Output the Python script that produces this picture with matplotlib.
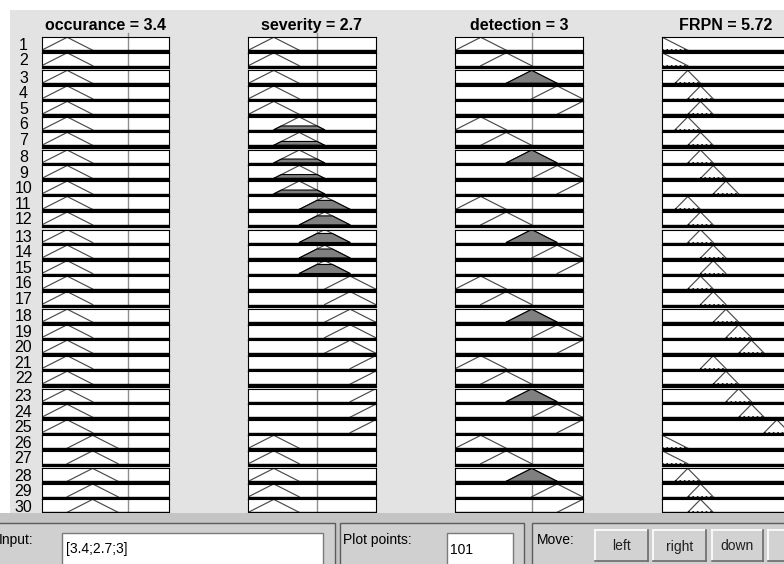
#!/usr/bin/env python3
"""
Fuzzy rule viewer snapshot: 30 rules, three inputs (occurance, severity,
detection) and the FRPN output, plus the control strip at the bottom.
"""

import matplotlib
matplotlib.use("Agg")
import matplotlib.pyplot as plt
from matplotlib.patches import Rectangle
import numpy as np

plt.rcParams['font.family'] = ['Liberation Sans', 'DejaVu Sans']

W, H = 784, 564

INPUT_NAMES = ['occurance', 'severity', 'detection']
INPUT_VALUES = [3.4, 2.7, 3]
INPUT_RANGE = (0, 5)
OUTPUT_NAME = 'FRPN'
OUTPUT_VALUE = 5.72
OUTPUT_RANGE = (0, 10)
PLOT_POINTS = 101

# triangular membership functions (a, b, c), keyed by MF index
IN_MF = {1: (0, 1, 2), 2: (1, 2, 3), 3: (2, 3, 4), 4: (3, 4, 5), 5: (4, 5, 6)}
OUT_MF = {0: (-2, 0, 2), 2: (1, 2, 3), 3: (2, 3, 4), 4: (3, 4, 5),
          5: (4, 5, 6), 6: (5, 6, 7), 7: (6, 7, 8), 9: (8, 9, 10)}

# MF used by each of the 30 rules
RULE_OCC = [1, 1, 1, 1, 1, 1, 1, 1, 1, 1, 1, 1, 1, 1, 1,
            1, 1, 1, 1, 1, 1, 1, 1, 1, 1, 2, 2, 2, 2, 2]
RULE_SEV = [1, 1, 1, 1, 1, 2, 2, 2, 2, 2, 3, 3, 3, 3, 3,
            4, 4, 4, 4, 4, 5, 5, 5, 5, 5, 1, 1, 1, 1, 1]
RULE_DET = [1, 2, 3, 4, 5, 1, 2, 3, 4, 5, 1, 2, 3, 4, 5,
            1, 2, 3, 4, 5, 1, 2, 3, 4, 5, 1, 2, 3, 4, 5]
RULE_FRPN = [0, 0, 2, 3, 3, 2, 3, 3, 4, 5, 2, 3, 3, 4, 4,
             3, 4, 5, 6, 7, 4, 5, 6, 7, 9, 0, 0, 2, 3, 3]

BG = '#e3e3e3'
MF_EDGE = '#4a4a4a'
FILL = '#808080'

COL_LEFT = [41.7, 248.3, 455.3, 662.3]
COL_W = 127.3
ROW_TOP0 = 37.3
ROW_H = 15.5
GROUP_GAP = 2.1
GAP_BEFORE = {2, 7, 12, 17, 22, 27}
N_ROWS = len(RULE_OCC)
TITLE_BASELINE = 30


def row_tops():
    tops, y = [], ROW_TOP0
    for r in range(N_ROWS):
        if r in GAP_BEFORE:
            y += GROUP_GAP
        tops.append(y)
        y += ROW_H
    return tops


def px_axes(fig, x, y, w, h, **kw):
    """Add axes using pixel coords measured from the top-left corner."""
    return fig.add_axes([x / W, 1 - (y + h) / H, w / W, h / H], **kw)


def trimf(x, abc):
    a, b, c = abc
    return np.interp(x, [a, b, c], [0, 1, 0], left=0, right=0)


def draw_rule_cell(ax, abc, xrange, value=None, first=False, base_dotted=False):
    ax.set_xlim(*xrange)
    ax.set_ylim(-0.2, 1.0)
    ax.set_xticks([])
    ax.set_yticks([])
    ax.set_facecolor('white')
    for s in ax.spines.values():
        s.set_linewidth(0.8)
        s.set_color('black')

    a, b, c = abc
    ax.plot([a, b, c], [0, 1, 0], color=MF_EDGE, lw=0.85, zorder=2)
    if base_dotted:
        ax.plot([max(a, xrange[0]), c], [0.0, 0.0], color='black',
                lw=1.2, ls=':', zorder=4)

    if value is not None:
        ax.axvline(value, color='#8f8f8f', lw=1.0, zorder=1)
        if first:
            ax.plot([value, value], [1.0, 1.35], color='#8f8f8f', lw=1.0,
                    clip_on=False, zorder=1)
        mu = float(trimf(value, abc))
        if mu > 0:
            xs = np.linspace(a, c, 201)
            ys = np.minimum(trimf(xs, abc), mu)
            ax.fill(xs, ys, facecolor=FILL, edgecolor='black', lw=0.8,
                    zorder=2.5)

    ax.axhspan(-0.2, 0, color='black', zorder=3)


def draw_button(ax, x, y, w, h, label):
    ax.add_patch(Rectangle((x, y), w, h, facecolor='#d2d2d2',
                           edgecolor='none'))
    ax.plot([x, x + w], [y, y], color='white', lw=1.2)
    ax.plot([x, x], [y, y + h], color='white', lw=1.2)
    ax.plot([x, x + w], [y + h, y + h], color='#6a6a6a', lw=1.2)
    ax.plot([x + w, x + w], [y, y + h], color='#6a6a6a', lw=1.2)
    if label:
        ax.text(x + w / 2, y + h / 2 + 1, label, ha='center', va='center',
                fontsize=10, color='#202020')


def draw_panel(fig):
    ax = px_axes(fig, 0, 513, W, H - 513, zorder=20)
    ax.set_xlim(0, W)
    ax.set_ylim(H, 513)
    ax.axis('off')
    ax.add_patch(Rectangle((0, 513), W, H - 513, facecolor='#c4c4c4',
                           edgecolor='none', clip_on=False))

    # etched sub-panels
    for x0, x1 in [(-5, 335), (340, 524), (532, 800)]:
        ax.add_patch(Rectangle((x0, 523), x1 - x0, 50, facecolor='#d0d0d0',
                               edgecolor='#5c5c5c', lw=1.0))

    # text boxes
    ax.add_patch(Rectangle((62, 533), 261, 40, facecolor='white',
                           edgecolor='#7a7a7a', lw=1.0))
    ax.add_patch(Rectangle((447, 533), 66, 40, facecolor='white',
                           edgecolor='#7a7a7a', lw=1.0))

    ax.text(-1, 540, 'Input:', ha='left', va='center', fontsize=10)
    ax.text(66, 549, '[' + ';'.join(f'{v:g}' for v in INPUT_VALUES) + ']',
            ha='left', va='center', fontsize=10)
    ax.text(343, 540, 'Plot points:', ha='left', va='center', fontsize=10)
    ax.text(450, 550, str(PLOT_POINTS), ha='left', va='center', fontsize=10)
    ax.text(537, 540, 'Move:', ha='left', va='center', fontsize=10)

    # the fourth button ("up") runs off the right edge, label not visible
    for x, w, label in [(595, 53, 'left'), (653, 53, 'right'),
                        (712, 51, 'down'), (768, 53, '')]:
        draw_button(ax, x, 530, w, 31, label)


def main():
    fig = plt.figure(figsize=(W / 100, H / 100), dpi=100, facecolor='white')

    bg = px_axes(fig, 10, 10, W - 10, 503, zorder=-1)
    bg.set_facecolor(BG)
    bg.set_xticks([])
    bg.set_yticks([])
    for s in bg.spines.values():
        s.set_visible(False)

    tops = row_tops()
    rules = [RULE_OCC, RULE_SEV, RULE_DET]

    # ── input columns ───────────────────────────────────────────────────
    for col in range(3):
        for r in range(N_ROWS):
            ax = px_axes(fig, COL_LEFT[col], tops[r], COL_W, ROW_H)
            draw_rule_cell(ax, IN_MF[rules[col][r]], INPUT_RANGE,
                           value=INPUT_VALUES[col], first=(r == 0))
        fig.text((COL_LEFT[col] + COL_W / 2) / W, 1 - TITLE_BASELINE / H,
                 f'{INPUT_NAMES[col]} = {INPUT_VALUES[col]:g}',
                 ha='center', va='baseline', fontsize=11.5,
                 fontweight='bold')

    # ── output column ───────────────────────────────────────────────────
    for r in range(N_ROWS):
        ax = px_axes(fig, COL_LEFT[3], tops[r], COL_W, ROW_H)
        draw_rule_cell(ax, OUT_MF[RULE_FRPN[r]], OUTPUT_RANGE,
                       base_dotted=True)
    fig.text((COL_LEFT[3] + COL_W / 2) / W, 1 - TITLE_BASELINE / H,
             f'{OUTPUT_NAME} = {OUTPUT_VALUE:g}',
             ha='center', va='baseline', fontsize=11.5, fontweight='bold')

    # ── rule numbers ────────────────────────────────────────────────────
    for r in range(N_ROWS):
        yc = tops[r] + ROW_H / 2
        fig.text(23.5 / W, 1 - yc / H, str(r + 1), ha='center',
                 va='center', fontsize=11.5)

    draw_panel(fig)

    fig.savefig('out.png', dpi=100, facecolor='white')


if __name__ == '__main__':
    main()
